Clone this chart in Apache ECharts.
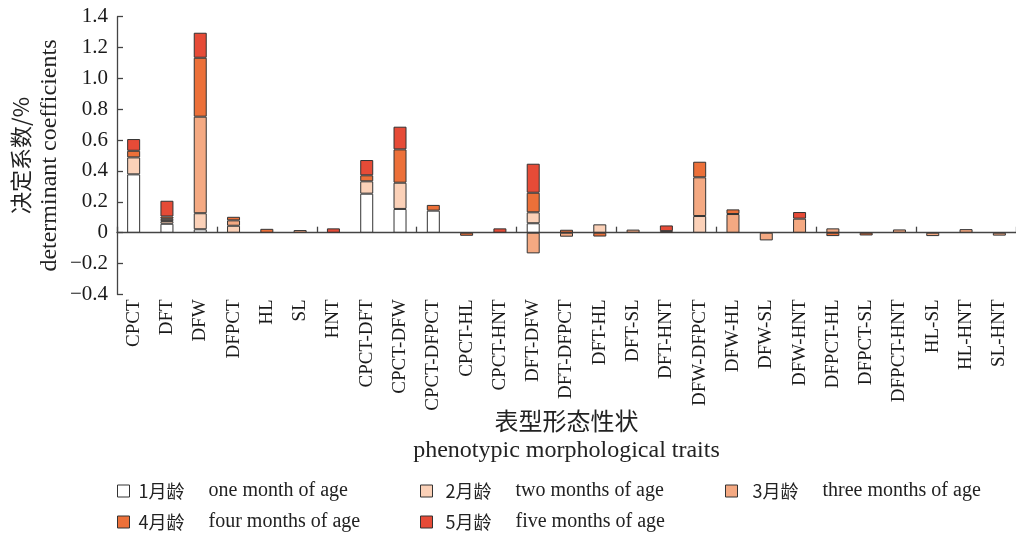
<!DOCTYPE html>
<html>
<head>
<meta charset="utf-8">
<script src="https://cdn.jsdelivr.net/npm/echarts@6/dist/echarts.min.js"></script>
<style>
html,body{margin:0;padding:0;background:#fff;}
#c{width:1016px;height:536px;}
</style>
</head>
<body>
<div id="c"></div>
<script>
const categories = ['CPCT','DFT','DFW','DFPCT','HL','SL','HNT','CPCT-DFT','CPCT-DFW','CPCT-DFPCT','CPCT-HL','CPCT-HNT','DFT-DFW','DFT-DFPCT','DFT-HL','DFT-SL','DFT-HNT','DFW-DFPCT','DFW-HL','DFW-SL','DFW-HNT','DFPCT-HL','DFPCT-SL','DFPCT-HNT','HL-SL','HL-HNT','SL-HNT'];
const seriesNames = ['1月龄','2月龄','3月龄','4月龄','5月龄'];
const seriesEnglish = ['one month of age','two months of age','three months of age','four months of age','five months of age'];
const month1 = [0.378,0.058,0.022,0,0,0,0,0.253,0.154,0.143,0,0,0.061,0,0,0,0,0,0,0,0,0,0,0,0,0,0];
const month2 = [0.110,0.017,0.104,0.045,0,0,0,0.080,0.170,0,0,0,0.071,0,0.054,0,0,0.108,0,0,0,0,0,0,0,0,0];
const month3 = [0,0.015,0.626,0.035,0,0.017,0,0,0,0,0,0,-0.134,-0.026,0,0.020,0,0.251,0.121,-0.050,0.091,0.028,0,0.021,-0.022,0.023,-0.019];
const month4 = [0.043,0.015,0.382,0.023,0.025,0,0,0.039,0.216,0.037,-0.020,0,0.127,0.019,-0.025,0,0.010,0.101,0.030,0,0,-0.022,-0.018,0,0,0,0];
const month5 = [0.076,0.102,0.162,0,0,0,0.028,0.099,0.147,0,0,0.028,0.188,0,0,0,0.037,0,0,0,0.043,0,0,0,0,0,0];
const yTicks = {min: -0.4, max: 1.4, interval: 0.2};

const colors = ['#FFFFFF','#FBD1B8','#F4A982','#EC7039','#E64B37'];
const allData = [month1, month2, month3, month4, month5];
const serif = "'Liberation Serif','Noto Sans CJK SC',serif";

const series = allData.map((arr, i) => ({
  name: seriesNames[i],
  type: 'bar',
  stack: 'total',
  barWidth: 13,
  xAxisIndex: 0,
  yAxisIndex: 0,
  itemStyle: {color: colors[i], borderColor: '#333', borderWidth: 1},
  data: arr.map(v => v === 0 ? '-' : v)
}));

const legendPos = [[112,476],[415,476],[720,476],[112,507],[415,507]];
const legendPad = [4, 8, 10, 4, 8];
const legends = seriesNames.map((n, i) => ({
  data: [n],
  left: legendPos[i][0],
  top: legendPos[i][1],
  icon: 'rect',
  itemWidth: 12,
  itemHeight: 12,
  itemStyle: {borderColor: '#333', borderWidth: 1},
  formatter: name => '{a|' + name + '}{b|' + seriesEnglish[seriesNames.indexOf(name)] + '}',
  textStyle: {
    fontFamily: serif, fontSize: 20, color: '#222',
    rich: {
      a: {fontFamily: "'Noto Sans CJK SC'", fontSize: 18, width: 70, padding: [0,0,0,legendPad[i]], color: '#222'},
      b: {fontFamily: "'Liberation Serif'", fontSize: 20, color: '#222'}
    }
  }
}));

const chart = echarts.init(document.getElementById('c'));
chart.setOption({
  animation: false,
  backgroundColor: '#fff',
  grid: {left: 117, top: 16.7, width: 902, height: 277.7, containLabel: false},
  legend: legends,
  xAxis: [{
    type: 'category',
    data: categories,
    position: 'bottom',
    axisLine: {onZero: true, lineStyle: {color: '#444', width: 1.3}},
    axisTick: {show: true, inside: true, length: 6, lineStyle: {color: '#444', width: 1.3}},
    axisLabel: {show: false},
    splitLine: {show: false}
  }, {
    type: 'category',
    data: categories,
    position: 'bottom',
    axisLine: {show: false, onZero: false},
    axisTick: {show: false},
    axisLabel: {rotate: 90, margin: 5, fontFamily: serif, fontSize: 19, color: '#1a1a1a'},
    name: '{c|表型形态性状}\n{e|phenotypic morphological traits}',
    nameLocation: 'middle',
    nameMoveOverlap: false,
    nameGap: 111,
    nameTextStyle: {
      rich: {
        c: {fontFamily: "'Noto Sans CJK SC'", fontSize: 24, color: '#222', lineHeight: 30},
        e: {fontFamily: "'Liberation Serif'", fontSize: 24, color: '#222', lineHeight: 30}
      }
    }
  }],
  yAxis: {
    type: 'value',
    min: yTicks.min, max: yTicks.max, interval: yTicks.interval,
    axisLine: {show: true, onZero: false, lineStyle: {color: '#444', width: 1.3}},
    axisTick: {show: true, inside: true, length: 6, lineStyle: {color: '#444', width: 1.3}},
    splitLine: {show: false},
    axisLabel: {
      margin: 9, fontFamily: serif, fontSize: 21, color: '#1a1a1a',
      formatter: v => Math.abs(v) < 1e-9 ? '0' : v.toFixed(1).replace('-', '\u2212')
    },
    name: '{c|决定系数/%}\n{e|determinant coefficients}',
    nameLocation: 'middle',
    nameMoveOverlap: false,
    nameRotate: 90,
    nameGap: 53,
    nameTextStyle: {
      rich: {
        c: {fontFamily: "'Noto Sans CJK SC'", fontSize: 22, color: '#222', lineHeight: 29},
        e: {fontFamily: "'Liberation Serif'", fontSize: 24, color: '#222', lineHeight: 29}
      }
    }
  },
  series: series
});
</script>
</body>
</html>
